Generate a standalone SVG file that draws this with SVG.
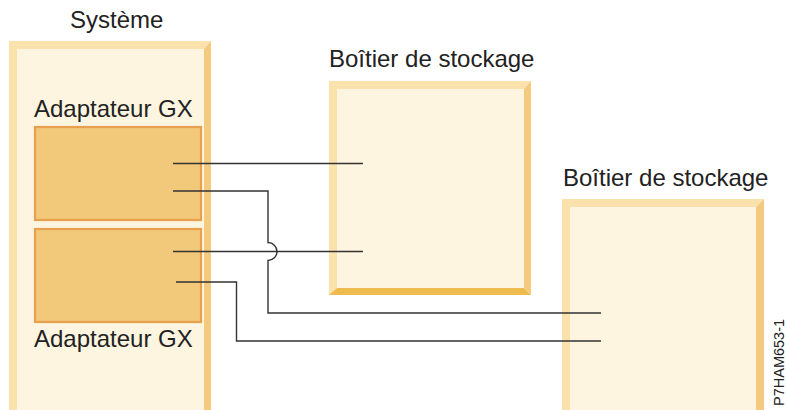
<svg xmlns="http://www.w3.org/2000/svg" width="787" height="410" viewBox="0 0 787 410">
<style>
text{font-family:"Liberation Sans",Arial,sans-serif;fill:#222;}
.lbl{font-size:24px;}
.lt{fill:#FBE1AC;}
.rt{fill:#F3CA7E;}
.bt{fill:#EEBB4E;}
.in{fill:#FEF5E0;}
.ad{fill:#F2C87A;stroke:#E9A04E;stroke-width:2.2;}
.w{fill:none;stroke:#333;stroke-width:1.4;}
</style>
<rect width="787" height="410" fill="#fff"/>
<g id="systeme">
<polygon class="lt" points="9,41 211,41 204,49 17,49 17,410 9,410"/>
<polygon class="rt" points="211,41 211,410 204,410 204,49"/>
<rect class="in" x="17" y="49" width="187" height="361"/>
<text class="lbl" x="70" y="28">Système</text>
</g>
<g id="adaptateur1">
<text class="lbl" x="34" y="117">Adaptateur GX</text>
<rect class="ad" x="35" y="127" width="166" height="93"/>
</g>
<g id="adaptateur2">
<rect class="ad" x="35" y="229" width="166" height="93"/>
<text class="lbl" x="34" y="347">Adaptateur GX</text>
</g>
<g id="boitier1">
<text class="lbl" x="329" y="67">Boîtier de stockage</text>
<polygon class="lt" points="329,81 531,81 524,89 337,89 337,288 329,295"/>
<polygon class="rt" points="531,81 531,295 524,288 524,89"/>
<polygon class="bt" points="329,295 531,295 524,288 337,288"/>
<rect class="in" x="337" y="89" width="187" height="199"/>
</g>
<g id="boitier2">
<text class="lbl" x="563" y="186">Boîtier de stockage</text>
<polygon class="lt" points="562,199 764,199 756,207 570,207 570,410 562,410"/>
<polygon class="rt" points="764,199 764,410 756,410 756,207"/>
<rect class="in" x="570" y="207" width="186" height="203"/>
</g>
<g id="connecteurs">
<path class="w" d="M173,163.5 H363"/>
<path class="w" d="M173,191 H268 V242.5 A9,9 0 0 1 268,260.5 V313 H601"/>
<path class="w" d="M173,251.5 H363"/>
<path class="w" d="M176,282 H236.5 V341 H601"/>
</g>
<text x="784" y="406" font-size="14.5" transform="rotate(-90 784 406)">P7HAM653-1</text>
</svg>
